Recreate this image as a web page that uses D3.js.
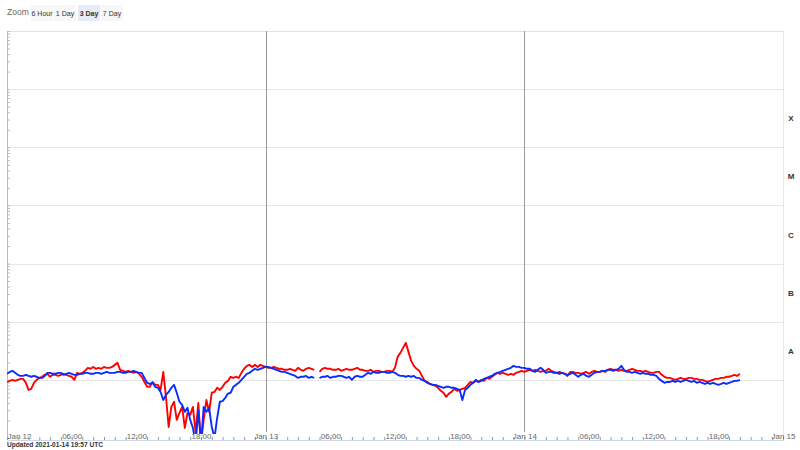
<!DOCTYPE html>
<html>
<head>
<meta charset="utf-8">
<script src="https://cdn.jsdelivr.net/npm/d3@7"></script>
<style>
  body { margin: 0; background: #fff; }
  svg { font-family: "Liberation Sans", Arial, sans-serif; }
</style>
</head>
<body>
<svg id="chart"></svg>
<script>
// GOES X-ray flux, one sample every 15 minutes from 2021-01-12 00:00 UTC
// values in units of 1e-8 W/m^2 (null = data gap)
const startTime = Date.UTC(2021, 0, 12);
const stepMinutes = 15;

const longFlux = [ // 0.1-0.8 nm
  0.92,0.96,1.00,0.96, 1.00,1.04,1.04,0.89, 0.67,0.70,0.89,1.00, 1.08,1.13,1.22,1.27,
  1.13,1.22,1.22,1.17, 1.22,1.27,1.22,1.17, 1.13,1.00,1.32,1.27, 1.32,1.43,1.61,1.55,
  1.67,1.55,1.61,1.55, 1.67,1.61,1.61,1.67, 1.81,1.96,1.49,1.43, 1.37,1.43,1.37,1.32,
  1.37,1.27,1.13,0.92, 0.76,0.76,0.92,0.82, 0.82,0.67,1.37,0.51, 0.155,0.343,0.42,0.205,
  0.271,0.343,0.149,0.271, 0.25,0.343,0.123,0.40, 0.08,0.205,0.45,0.282, 0.60,0.62,0.73,0.67,
  0.76,0.89,0.96,1.13, 1.08,1.13,1.08,1.32, 1.55,1.74,1.81,1.67, 1.81,1.67,1.81,1.74,
  1.67,1.61,1.61,1.67, 1.61,1.55,1.55,1.49, 1.49,1.55,1.49,1.43, 1.61,1.49,1.43,1.55,
  1.61,1.55,1.49,null, 1.37,1.55,1.61,1.55, 1.55,1.49,1.49,1.55, 1.43,1.49,1.55,1.49,
  1.49,1.55,1.61,1.49, 1.49,1.43,1.43,1.49, 1.37,1.43,1.43,1.37, 1.37,1.43,1.43,1.37,
  1.61,2.49,2.91,3.55, 4.33,3.03,2.12,1.74, 1.55,1.43,1.17,0.96, 0.92,0.85,0.82,0.79,
  0.73,0.65,0.60,0.51, 0.58,0.62,0.70,0.65, 0.67,0.70,0.73,0.82, 0.92,0.89,0.96,0.92,
  1.00,0.96,1.08,1.04, 1.13,1.22,1.32,1.27, 1.32,1.27,1.22,1.27, 1.22,1.32,1.37,1.43,
  1.37,1.43,1.49,1.43, 1.49,1.43,1.37,1.43, 1.43,1.55,1.43,1.37, 1.32,1.37,1.32,1.27,
  1.17,1.37,1.37,1.32, 1.32,1.27,1.32,1.37, 1.27,1.37,1.43,1.37, 1.37,1.43,1.37,1.49,
  1.55,1.49,1.49,1.43, 1.49,1.43,1.43,1.49, 1.55,1.49,1.43,1.43, 1.37,1.43,1.37,1.32,
  1.32,1.37,1.37,1.22, 1.13,1.08,1.08,1.04, 1.00,1.04,1.08,1.04, 1.04,1.08,1.08,1.04,
  1.04,1.00,1.00,0.96, 0.92,0.96,1.00,1.04, 1.04,1.08,1.08,1.13, 1.13,1.17,1.22,1.17,
  1.27
];

const shortFlux = [ // 0.05-0.4 nm
  1.27,1.37,1.43,1.32, 1.22,1.17,1.17,1.22, 1.17,1.13,1.17,1.13, 1.08,1.08,1.17,1.32,
  1.32,1.27,1.27,1.32, 1.32,1.22,1.27,1.32, 1.27,1.22,1.22,1.27, 1.27,1.32,1.32,1.27,
  1.27,1.32,1.32,1.27, 1.32,1.37,1.32,1.32, 1.32,1.37,1.37,1.32, 1.32,1.37,1.37,1.43,
  1.37,1.32,1.32,1.08, 0.89,0.85,0.89,0.76, 0.73,0.62,0.45,0.55, 0.62,0.73,0.82,0.60,
  0.42,0.37,0.282,0.33, 0.205,0.149,0.08,0.305, 0.08,0.343,0.282,0.33, 0.155,0.10,0.222,0.42,
  0.43,0.49,0.58,0.60, 0.76,0.82,0.89,1.00, 1.13,1.27,1.32,1.43, 1.55,1.49,1.55,1.61,
  1.67,1.67,1.61,1.55, 1.49,1.43,1.37,1.37, 1.32,1.27,1.22,1.17, 1.08,1.13,1.13,1.17,
  1.08,1.13,1.08,null, 1.08,1.13,1.13,1.17, 1.08,1.13,1.13,1.17, 1.17,1.13,1.08,1.13,
  1.00,1.13,1.17,1.13, 1.13,1.22,1.32,1.27, 1.37,1.32,1.32,1.37, 1.37,1.32,1.32,1.37,
  1.32,1.22,1.17,1.17, 1.13,1.17,1.13,1.17, 1.08,1.08,1.00,0.96, 0.89,0.85,0.82,0.82,
  0.79,0.76,0.73,0.76, 0.76,0.73,0.73,0.70, 0.67,0.45,0.67,0.73, 0.82,0.89,1.00,0.92,
  0.96,1.04,1.08,1.13, 1.17,1.27,1.32,1.37, 1.43,1.49,1.55,1.61, 1.74,1.67,1.67,1.61,
  1.61,1.55,1.55,1.43, 1.37,1.49,1.61,1.49, 1.32,1.37,1.37,1.32, 1.32,1.27,1.32,1.27,
  1.22,1.27,1.32,1.22, 1.13,1.22,1.27,1.17, 1.13,1.22,1.32,1.37, 1.37,1.43,1.43,1.49,
  1.49,1.43,1.49,1.55, 1.74,1.49,1.37,1.37, 1.32,1.37,1.32,1.27, 1.32,1.27,1.27,1.22,
  1.22,1.17,1.04,0.96, 0.89,0.92,0.92,0.96, 0.92,0.96,0.92,0.96, 1.00,0.96,0.92,0.96,
  0.89,0.92,0.89,0.85, 0.89,0.85,0.89,0.85, 0.82,0.85,0.89,0.85, 0.89,0.92,0.96,0.96,
  1.00
];

const classLabels = ["A", "B", "C", "M", "X"];
const classFloors = [1e-8, 1e-7, 1e-6, 1e-5, 1e-4];
const zoomButtons = ["6 Hour", "1 Day", "3 Day", "7 Day"];
const selectedZoom = "3 Day";
const updatedText = "Updated 2021-01-14 19:57 UTC";

// layout
const width = 800;
const height = 450;
const plot = { left: 7, right: 783, top: 31, bottom: 438, clipBottom: 434 };

const svg = d3.select("#chart").attr("width", width).attr("height", height);
svg.append("rect").attr("width", width).attr("height", height).attr("fill", "#fff");

const x = d3.scaleUtc()
    .domain([new Date(startTime), d3.utcDay.offset(new Date(startTime), 3)])
    .range([plot.left, plot.right]);
const y = d3.scaleLog()
    .domain([1e-9, 1e-2])
    .range([plot.bottom, plot.top]);

// zoom buttons
svg.append("text").attr("x", 7).attr("y", 15)
    .attr("font-size", 8.5).attr("fill", "#666").text("Zoom");
const btnX = [31, 54, 78, 101];
const btn = svg.append("g").selectAll("g").data(zoomButtons).join("g")
    .attr("transform", (d, i) => `translate(${btnX[i]},5)`);
btn.append("rect").attr("width", 22).attr("height", 16)
    .attr("fill", d => d === selectedZoom ? "#e6ebf5" : "#f7f7f7");
btn.append("text").attr("x", 11).attr("y", 10.5).attr("text-anchor", "middle")
    .attr("font-size", 7).attr("fill", "#333")
    .attr("font-weight", d => d === selectedZoom ? "bold" : "normal")
    .text(d => d);

// horizontal grid, one line per decade
svg.append("g").selectAll("line")
    .data([1e-8, 1e-7, 1e-6, 1e-5, 1e-4, 1e-3])
    .join("line")
    .attr("x1", plot.left).attr("x2", plot.right)
    .attr("y1", d => Math.round(y(d)) + 0.5).attr("y2", d => Math.round(y(d)) + 0.5)
    .attr("stroke", "#e6e6e6");

// top and right frame
svg.append("line").attr("x1", plot.left).attr("x2", plot.right)
    .attr("y1", plot.top + 0.5).attr("y2", plot.top + 0.5).attr("stroke", "#dde4f0");
svg.append("line").attr("x1", plot.right + 0.5).attr("x2", plot.right + 0.5)
    .attr("y1", plot.top).attr("y2", plot.bottom).attr("stroke", "#e6e6e6");

// day separators
svg.append("g").selectAll("line")
    .data(d3.utcDay.range(d3.utcDay.offset(new Date(startTime), 1), d3.utcDay.offset(new Date(startTime), 3)))
    .join("line")
    .attr("x1", d => Math.round(x(d)) + 0.5).attr("x2", d => Math.round(x(d)) + 0.5)
    .attr("y1", plot.top).attr("y2", 432)
    .attr("stroke", "#9a9a9a");

// left log axis with minor ticks
const minorTicks = [];
for (let e = -9; e < -2; e++) for (let m = 1; m < 10; m++) minorTicks.push(m * Math.pow(10, e));
minorTicks.push(1e-2);
const yAxis = svg.append("g").attr("transform", `translate(${plot.left},0)`)
    .call(d3.axisRight(y).tickValues(minorTicks).tickSize(3).tickFormat(""));
yAxis.select(".domain").attr("stroke", "#bbb");
yAxis.selectAll(".tick line").attr("stroke", "#bbb");

// bottom time axis: hourly ticks, labels every 6 hours
const hourTicks = d3.utcHour.range(new Date(startTime), d3.utcHour.offset(d3.utcDay.offset(new Date(startTime), 3), 1));
const fmtDay = d3.utcFormat("%b %d");
const fmtHour = d3.utcFormat("%H:%M");
const xAxis = svg.append("g").attr("transform", `translate(0,${plot.bottom + 2})`)
    .call(d3.axisTop(x).tickValues(hourTicks).tickSize(3).tickPadding(-2)
      .tickFormat(d => d.getUTCHours() % 6 ? "" : (d.getUTCHours() === 0 ? fmtDay(d) : fmtHour(d))));
xAxis.select(".domain").attr("stroke", "#ccd6eb");
xAxis.selectAll(".tick line").attr("stroke", "#999");
xAxis.selectAll(".tick text").attr("fill", "#666").attr("font-size", 8)
    .attr("font-family", "Liberation Sans, Arial, sans-serif");
xAxis.select(".tick text").attr("text-anchor", "start");

// class labels on the right
svg.append("g").selectAll("text").data(classLabels).join("text")
    .attr("x", 791)
    .attr("y", (d, i) => y(Math.sqrt(classFloors[i] * classFloors[i] * 10)) + 3)
    .attr("text-anchor", "middle")
    .attr("font-size", 8).attr("font-weight", "bold").attr("fill", "#333")
    .text(d => d);

// flux series
svg.append("clipPath").attr("id", "plot-clip").append("rect")
    .attr("x", plot.left).attr("y", plot.top)
    .attr("width", plot.right - plot.left).attr("height", plot.clipBottom - plot.top);

const toPoints = arr => arr.map((v, i) => ({
  t: new Date(startTime + i * stepMinutes * 60000),
  v: v == null ? null : v * 1e-8
}));

const line = d3.line()
    .defined(d => d.v != null)
    .x(d => x(d.t))
    .y(d => y(d.v));

const series = [
  { name: "long", color: "#ff0000", values: toPoints(longFlux) },
  { name: "short", color: "#0a2dff", values: toPoints(shortFlux) }
];

svg.append("g").attr("clip-path", "url(#plot-clip)")
  .selectAll("path").data(series).join("path")
    .attr("d", d => line(d.values))
    .attr("fill", "none")
    .attr("stroke", d => d.color)
    .attr("stroke-width", 1.9)
    .attr("stroke-linejoin", "round");

// footer
svg.append("text").attr("x", 7).attr("y", 447)
    .attr("font-size", 6.6).attr("font-weight", "bold").attr("fill", "#333")
    .text(updatedText);
</script>
</body>
</html>
